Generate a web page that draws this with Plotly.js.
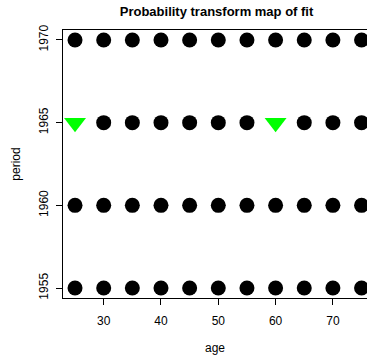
<!DOCTYPE html>
<html><head><meta charset="utf-8">
<script src="https://cdn.plot.ly/plotly-3.0.1.min.js"></script>
<style>body{margin:0;padding:0;background:#fff}#plot{width:367px;height:360px}</style>
</head><body><div id="plot"></div>
<script>
var ages = [25,30,35,40,45,50,55,60,65,70,75];
var periods = [1955,1960,1965,1970];
// flagged cells (green down-triangles)
var flagAges = [25,60];
var flagPeriods = [1965,1965];

var cx = [], cy = [];
for (var j=0;j<periods.length;j++){
  for (var i=0;i<ages.length;i++){
    var flagged=false;
    for (var k=0;k<flagAges.length;k++){ if(flagAges[k]===ages[i]&&flagPeriods[k]===periods[j]) flagged=true; }
    if(!flagged){cx.push(ages[i]);cy.push(periods[j]);}
  }
}
var font = 'Liberation Sans, Arial, sans-serif';
var traces = [
  {x:cx,y:cy,mode:'markers',type:'scatter',cliponaxis:false,
   marker:{symbol:'circle',size:15,color:'#000',line:{width:0}}},
  {x:flagAges,y:flagPeriods,mode:'markers',type:'scatter',cliponaxis:false,
   marker:{symbol:'triangle-down',size:19,color:'#00FF00',line:{width:0}}}
];
var layout = {
  width:367,height:360,showlegend:false,
  margin:{l:63,r:0,t:30,b:62,pad:0},
  paper_bgcolor:'#fff',plot_bgcolor:'#fff',
  title:{text:'<b>Probability transform map of fit</b>',font:{family:font,size:13,color:'#000'},x:0.59,xanchor:'center',y:0.968,yanchor:'middle'},
  xaxis:{range:[22.9,75.95],tickvals:[30,40,50,60,70],ticks:'outside',ticklen:6,tickcolor:'#000',
    showline:true,linecolor:'#000',linewidth:1,mirror:true,showgrid:false,zeroline:false,
    ticklabelstandoff:6,
    tickfont:{family:font,size:12,color:'#000'},
    title:{text:'age',font:{family:font,size:12,color:'#000'},standoff:16}},
  yaxis:{range:[1954.4,1970.6],tickvals:[1955,1960,1965,1970],ticks:'outside',ticklen:6,tickcolor:'#000',
    showline:true,linecolor:'#000',linewidth:1,showgrid:false,zeroline:false,tickangle:-90,
    ticklabelstandoff:3,
    tickfont:{family:font,size:12,color:'#000'},
    title:{text:'period',font:{family:font,size:12,color:'#000'},standoff:14}}
};
Plotly.newPlot('plot',traces,layout,{staticPlot:true,displayModeBar:false});
</script></body></html>
